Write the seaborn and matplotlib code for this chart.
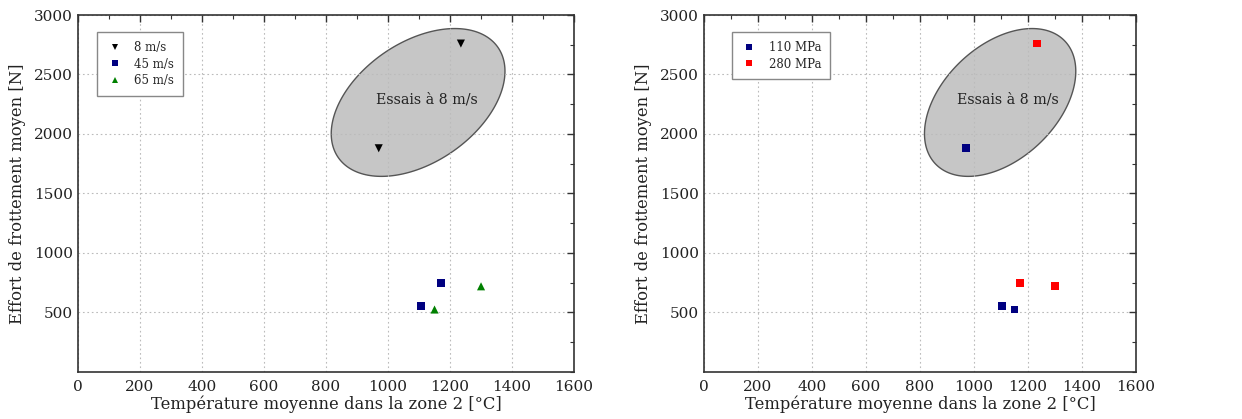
import numpy as np
import pandas as pd
import matplotlib
matplotlib.use("Agg")
import matplotlib.pyplot as plt
from matplotlib.ticker import MultipleLocator
import seaborn as sns

# Données
vitesse = ["8 m/s", "8 m/s", "45 m/s", "45 m/s", "65 m/s", "65 m/s"]
pression = ["110 MPa", "280 MPa", "110 MPa", "280 MPa", "110 MPa", "280 MPa"]
temperature = [970, 1235, 1105, 1170, 1150, 1300]
effort = [1880, 2760, 555, 750, 525, 720]

vitesse_labels = ["8 m/s", "45 m/s", "65 m/s"]
vitesse_colors = {"8 m/s": "black", "45 m/s": "#000080", "65 m/s": "#008000"}
vitesse_markers = {"8 m/s": "v", "45 m/s": "s", "65 m/s": "^"}
pression_labels = ["110 MPa", "280 MPa"]
pression_colors = {"110 MPa": "#000080", "280 MPa": "#ff0000"}

df = pd.DataFrame({"vitesse": vitesse, "pression": pression,
                   "temperature": temperature, "effort": effort})

sns.set_style("white")
plt.rcParams["font.family"] = ["DejaVu Serif"]

fig = plt.figure(figsize=(12.42, 4.19), dpi=100)
ax1 = fig.add_axes([0.0628, 0.1122, 0.3994, 0.852])
ax2 = fig.add_axes([0.5668, 0.1122, 0.3478, 0.852])


def ellipse_zone(ax):
    # ellipse "Essais à 8 m/s" (forme tracée en pixels sur le graphe de gauche)
    t = np.linspace(0, 2 * np.pi, 200)
    a, b, th = 97, 60, np.deg2rad(34.5)
    px = a * np.cos(t) * np.cos(th) - b * np.sin(t) * np.sin(th)
    py = a * np.cos(t) * np.sin(th) + b * np.sin(t) * np.cos(th)
    ax.fill(1097 + px * 200 / 62, 2265 + py * 500 / 59.5,
            facecolor="#c6c6c6", edgecolor="#555555", linewidth=1.0,
            zorder=0.2)
    ax.text(1126, 2286, "Essais à 8 m/s", ha="center", va="center",
            fontsize=10.3, color="#222222", zorder=3)


def style_axes(ax):
    ax.set_xlim(0, 1600)
    ax.set_ylim(0, 3000)
    ax.xaxis.set_major_locator(MultipleLocator(200))
    ax.xaxis.set_minor_locator(MultipleLocator(100))
    ax.set_yticks([500, 1000, 1500, 2000, 2500, 3000])
    ax.yaxis.set_minor_locator(MultipleLocator(250))
    ax.tick_params(which="both", direction="in", top=True, right=True,
                   labelsize=11, colors="#333333", labelcolor="#222222")
    ax.tick_params(axis="x", which="major", pad=6)
    ax.tick_params(which="major", length=5, width=1.0)
    ax.tick_params(which="minor", length=3, width=0.8)
    ax.grid(True, which="major", linestyle=(0, (1.5, 2.5)), color="#bbbbbb",
            linewidth=0.8)
    ax.set_axisbelow(True)
    for s in ax.spines.values():
        s.set_color("#333333")
        s.set_linewidth(1.2)
    ax.set_xlabel("Température moyenne dans la zone 2 [°C]", fontsize=11.8,
                  labelpad=0.5, color="#222222")
    ax.set_ylabel("Effort de frottement moyen [N]", fontsize=11.8,
                  labelpad=6, color="#222222")


def legende(ax, x0):
    h, l = ax.get_legend_handles_labels()
    ax.legend(h, l, loc="upper left", bbox_to_anchor=(x0, 0.952),
              borderaxespad=0, fontsize=8.5, markerscale=0.8,
              fancybox=False, edgecolor="#888888", framealpha=1,
              handlelength=1.5, handletextpad=0.9, borderpad=0.75,
              labelspacing=0.3)


# Graphe de gauche : par vitesse
ellipse_zone(ax1)
sns.scatterplot(data=df, x="temperature", y="effort", hue="vitesse",
                style="vitesse", hue_order=vitesse_labels,
                style_order=vitesse_labels, palette=vitesse_colors,
                markers=vitesse_markers, s=34, linewidth=0, ax=ax1, zorder=4)
style_axes(ax1)
legende(ax1, 0.038)

# Graphe de droite : par pression
ellipse_zone(ax2)
sns.scatterplot(data=df, x="temperature", y="effort", hue="pression",
                hue_order=pression_labels, palette=pression_colors,
                marker="s", s=32, linewidth=0, ax=ax2, zorder=4)
style_axes(ax2)
legende(ax2, 0.064)

fig.savefig("out.png", dpi=100)
